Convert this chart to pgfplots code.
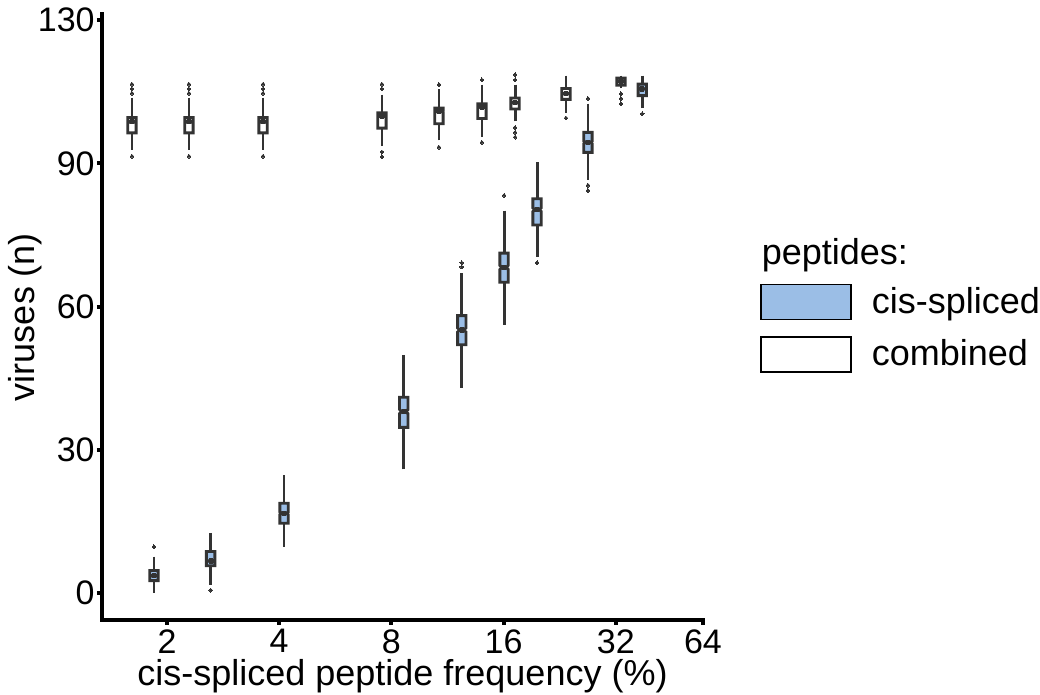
\documentclass[border=0pt]{standalone}
\usepackage{fontspec}
\setmainfont{Liberation Sans}
\usepackage{pgfplots}
\pgfplotsset{compat=1.18}
\usepgfplotslibrary{statistics}
\definecolor{cisblue}{RGB}{155,190,230}
\definecolor{dgray}{RGB}{51,51,51}
\newcommand{\fs}{\fontsize{17}{20}\selectfont}
\newcommand{\fl}{\fontsize{18}{21}\selectfont}
\pgfplotsset{
  notched/.style={
    boxplot/draw/box/.code={%
      \pgfmathsetmacro\bxLQ{\pgfplotsboxplotvalue{lower quartile}}%
      \pgfmathsetmacro\bxUQ{\pgfplotsboxplotvalue{upper quartile}}%
      \pgfmathsetmacro\bxMD{\pgfplotsboxplotvalue{median}}%
      \pgfmathsetmacro\bxD{0.07*(\bxUQ-\bxLQ)}%
      \pgfmathsetmacro\bxNL{\bxMD-\bxD}%
      \pgfmathsetmacro\bxNH{\bxMD+\bxD}%
      \draw[/pgfplots/boxplot/every box/.try]
        (boxplot box cs:\bxLQ,0) -- (boxplot box cs:\bxNL,0) -- (boxplot box cs:\bxMD,0.25)
        -- (boxplot box cs:\bxNH,0) -- (boxplot box cs:\bxUQ,0) -- (boxplot box cs:\bxUQ,1)
        -- (boxplot box cs:\bxNH,1) -- (boxplot box cs:\bxMD,0.75) -- (boxplot box cs:\bxNL,1)
        -- (boxplot box cs:\bxLQ,1) -- cycle;
    },
    boxplot/draw/median/.code={%
      \draw[/pgfplots/boxplot/every median/.try, line width=2.6pt]
        (boxplot box cs:\pgfplotsboxplotvalue{median},0.25) --
        (boxplot box cs:\pgfplotsboxplotvalue{median},0.75);
    },
    boxplot/draw/lower whisker/.code={%
      \draw[/pgfplots/boxplot/every whisker/.try]
        (boxplot box cs:\pgfplotsboxplotvalue{lower whisker},0.5) --
        (boxplot box cs:\pgfplotsboxplotvalue{lower quartile},0.5);
    },
    boxplot/draw/upper whisker/.code={%
      \draw[/pgfplots/boxplot/every whisker/.try]
        (boxplot box cs:\pgfplotsboxplotvalue{upper whisker},0.5) --
        (boxplot box cs:\pgfplotsboxplotvalue{upper quartile},0.5);
    },
  },
  myboxes/.style={
    boxplot/draw direction=y,
    notched,
    line width=1.45pt, draw=dgray,
    mark=*, mark size=0.95pt,
    mark options={solid, draw=dgray, fill=dgray, line width=0pt},
    forget plot,
  },
  comb/.style={myboxes, boxplot/every box/.style={fill=white}},
  cis/.style={myboxes, boxplot/every box/.style={fill=cisblue}},
}
\begin{document}
\begin{tikzpicture}
\begin{axis}[
  scale only axis,
  width=300.5pt, height=303pt,
  xmin=0.4207, xmax=5.777,
  ymin=-5.66, ymax=121.3,
  axis x line*=bottom, axis y line*=left,
  axis line style={line width=2pt, black, line cap=rect, -},
  xtick={1,2,3,4,5,5.777},
  xticklabels={2,4,8,16,32,64},
  ytick={0,30,60,90,120},
  yticklabels={0,30,60,90,130},
  tick align=outside,
  major tick length=2.5pt,
  tick style={line width=2pt, black},
  /pgf/number format/assume math mode=true,
  tick label style={font=\fs, text=black},
  xticklabel style={inner sep=2pt},
  yticklabel style={inner sep=1pt},
  label style={font=\fl},
  xlabel={cis-spliced peptide frequency (\%)},
  ylabel={viruses (n)},
  xlabel style={inner sep=0pt, yshift=-1pt},
  ylabel style={inner sep=0pt},
  ylabel shift=-3pt,
  legend cell align=left,
  legend style={
    draw=none, fill=none, font=\fl,
    at={(rel axis cs:1.0948,0.63)}, anchor=north west,
    inner sep=0pt, column sep=10pt, row sep=8pt,
    nodes={inner sep=0pt},
  },
]
% combined (white)
\addplot[comb, boxplot prepared={draw position=0.688, box extend=0.075,
  lower whisker=92.9, lower quartile=96.4, median=98.7, upper quartile=99.6, upper whisker=103.8}]
  coordinates {(0,104.7) (0,105.6) (0,106.6) (0,91.5)};
\addplot[comb, boxplot prepared={draw position=1.196, box extend=0.075,
  lower whisker=92.9, lower quartile=96.4, median=98.7, upper quartile=99.6, upper whisker=103.8}]
  coordinates {(0,104.7) (0,105.6) (0,106.6) (0,91.5)};
\addplot[comb, boxplot prepared={draw position=1.856, box extend=0.075,
  lower whisker=92.9, lower quartile=96.4, median=98.7, upper quartile=99.6, upper whisker=103.8}]
  coordinates {(0,104.7) (0,105.6) (0,106.6) (0,91.5)};
\addplot[comb, boxplot prepared={draw position=2.916, box extend=0.075,
  lower whisker=93.6, lower quartile=97.4, median=99.9, upper quartile=100.6, upper whisker=104.4}]
  coordinates {(0,105.6) (0,106.6) (0,92.4) (0,91.4)};
\addplot[comb, boxplot prepared={draw position=3.424, box extend=0.075,
  lower whisker=94.8, lower quartile=98.3, median=100.9, upper quartile=101.6, upper whisker=105.5}]
  coordinates {(0,106.5) (0,93.4)};
\addplot[comb, boxplot prepared={draw position=3.807, box extend=0.075,
  lower whisker=95.5, lower quartile=99.4, median=101.8, upper quartile=102.5, upper whisker=106.5}]
  coordinates {(0,107.5) (0,94.4)};
\addplot[comb, boxplot prepared={draw position=4.102, box extend=0.075,
  lower whisker=98.8, lower quartile=101.4, median=102.7, upper quartile=103.7, upper whisker=106.5}]
  coordinates {(0,107.5) (0,108.6) (0,97.5) (0,96.5) (0,95.5)};
\addplot[comb, boxplot prepared={draw position=4.556, box extend=0.075,
  lower whisker=100.6, lower quartile=103.4, median=104.6, upper quartile=105.7, upper whisker=108.4}]
  coordinates {(0,99.5)};
\addplot[comb, boxplot prepared={draw position=5.046, box extend=0.075,
  lower whisker=105.7, lower quartile=106.4, median=107.2, upper quartile=107.9, upper whisker=108.4}]
  coordinates {(0,104.6) (0,103.6) (0,102.5)};
% cis-spliced (blue)
\addplot[cis, boxplot prepared={draw position=0.884, box extend=0.075,
  lower whisker=0, lower quartile=2.6, median=3.6, upper quartile=4.7, upper whisker=7.6}]
  coordinates {(0,9.7)};
\addplot[cis, boxplot prepared={draw position=1.389, box extend=0.075,
  lower whisker=1.7, lower quartile=5.7, median=6.7, upper quartile=8.7, upper whisker=12.6}]
  coordinates {(0,0.6)};
\addplot[cis, boxplot prepared={draw position=2.043, box extend=0.075,
  lower whisker=9.7, lower quartile=14.6, median=16.7, upper quartile=18.8, upper whisker=24.7}]
  coordinates {};
\addplot[cis, boxplot prepared={draw position=3.110, box extend=0.075,
  lower whisker=25.9, lower quartile=34.7, median=38.0, upper quartile=41.0, upper whisker=49.9}]
  coordinates {};
\addplot[cis, boxplot prepared={draw position=3.627, box extend=0.075,
  lower whisker=43.0, lower quartile=52.0, median=55.1, upper quartile=58.1, upper whisker=67.0}]
  coordinates {(0,68.3) (0,69.2)};
\addplot[cis, boxplot prepared={draw position=4.004, box extend=0.075,
  lower whisker=56.2, lower quartile=65.1, median=68.2, upper quartile=71.2, upper whisker=80.1}]
  coordinates {(0,83.3)};
\addplot[cis, boxplot prepared={draw position=4.298, box extend=0.075,
  lower whisker=70.4, lower quartile=77.1, median=80.3, upper quartile=82.6, upper whisker=90.2}]
  coordinates {(0,69.2)};
\addplot[cis, boxplot prepared={draw position=4.752, box extend=0.075,
  lower whisker=86.6, lower quartile=92.3, median=94.4, upper quartile=96.5, upper whisker=102.5}]
  coordinates {(0,103.6) (0,85.4) (0,84.3)};
\addplot[cis, boxplot prepared={draw position=5.236, box extend=0.075,
  lower whisker=101.6, lower quartile=104.2, median=105.6, upper quartile=106.6, upper whisker=108.4}]
  coordinates {(0,100.4)};
% legend
\addlegendimage{empty legend}
\addlegendentry{\hspace*{-55pt}peptides:}
\addlegendimage{legend image code/.code={\draw[draw=black, line width=0.75pt, fill=cisblue] (0pt,-8.75pt) rectangle (45pt,8.75pt);}}
\addlegendentry{cis-spliced}
\addlegendimage{legend image code/.code={\draw[draw=black, line width=0.75pt, fill=white] (0pt,-8.75pt) rectangle (45pt,8.75pt);}}
\addlegendentry{combined}
\end{axis}
\pgfresetboundingbox
\path (-51pt,-37.5pt) rectangle (469pt,310pt);
\end{tikzpicture}
\end{document}
